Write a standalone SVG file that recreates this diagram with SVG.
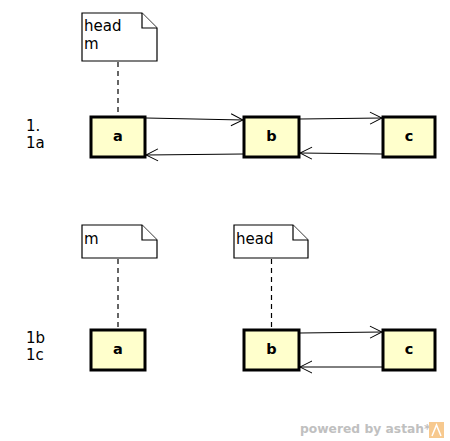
<svg xmlns="http://www.w3.org/2000/svg" width="450" height="441" viewBox="0 0 450 441">
<defs>
<style>
.note{fill:#fff;stroke:#000;stroke-width:1.2}
.box{fill:#ffffcc;stroke:#000;stroke-width:3}
.lbl{font-family:"DejaVu Sans",sans-serif;font-size:14.5px;font-weight:bold;text-anchor:middle}
.txt{font-family:"DejaVu Sans",sans-serif;font-size:15px;fill:#000}
.dash{stroke:#000;stroke-width:1.2;stroke-dasharray:5,4;fill:none}
.edge{stroke:#000;stroke-width:1;fill:none}
</style>
<marker id="open" markerWidth="14" markerHeight="14" refX="13" refY="7" orient="auto" markerUnits="userSpaceOnUse">
<path d="M1,1 L13,7 L1,13" fill="none" stroke="#000" stroke-width="1"/>
</marker>
</defs>
<rect width="450" height="441" fill="#fff"/>
<text class="txt" x="26" y="131">1.</text>
<text class="txt" x="26" y="148">1a</text>
<text class="txt" x="26" y="343">1b</text>
<text class="txt" x="26" y="360">1c</text>
<g id="note1">
<path class="note" d="M82,13 H142 L157,28 V61 H82 Z"/>
<path class="note" d="M142,13 V28 H157"/>
<text class="txt" x="84" y="31">head</text>
<text class="txt" x="84" y="49">m</text>
</g>
<g id="a1"><rect class="box" x="91" y="117" width="54" height="40"/><text class="lbl" x="118" y="140.5">a</text></g>
<g id="b1"><rect class="box" x="244" y="117" width="55" height="40"/><text class="lbl" x="271.5" y="140.5">b</text></g>
<g id="c1"><rect class="box" x="383" y="117" width="52" height="40"/><text class="lbl" x="409" y="140.5">c</text></g>
<g id="note2">
<path class="note" d="M82,225 H142 L157,240 V258 H82 Z"/>
<path class="note" d="M142,225 V240 H157"/>
<text class="txt" x="84" y="244">m</text>
</g>
<g id="note3">
<path class="note" d="M234,225 H293 L308,240 V258 H234 Z"/>
<path class="note" d="M293,225 V240 H308"/>
<text class="txt" x="236" y="244">head</text>
</g>
<g id="a2"><rect class="box" x="91" y="330" width="54" height="40"/><text class="lbl" x="118" y="353.5">a</text></g>
<g id="b2"><rect class="box" x="244" y="330" width="55" height="40"/><text class="lbl" x="271.5" y="353.5">b</text></g>
<g id="c2"><rect class="box" x="383" y="330" width="52" height="40"/><text class="lbl" x="409" y="353.5">c</text></g>
<g id="connectors">
<line class="dash" x1="118" y1="62" x2="118" y2="116"/>
<line class="dash" x1="118" y1="259" x2="118" y2="329"/>
<line class="dash" x1="271.5" y1="259" x2="271.5" y2="329"/>
<line class="edge" x1="146" y1="118" x2="243" y2="120" marker-end="url(#open)"/>
<line class="edge" x1="243" y1="154" x2="146" y2="155" marker-end="url(#open)"/>
<line class="edge" x1="300" y1="119" x2="382" y2="118" marker-end="url(#open)"/>
<line class="edge" x1="382" y1="154" x2="300" y2="153" marker-end="url(#open)"/>
<line class="edge" x1="300" y1="333" x2="382" y2="332" marker-end="url(#open)"/>
<line class="edge" x1="382" y1="367" x2="300" y2="367" marker-end="url(#open)"/>
</g>
<text x="300" y="433" font-family="DejaVu Sans,sans-serif" font-size="12.3" font-weight="bold" fill="#c0c0c0">powered by astah*</text>
<g id="logo">
<rect x="429" y="422" width="15" height="16" fill="#f7c98f"/>
<path d="M432,436 L436.5,425 L441,436" fill="none" stroke="#fff" stroke-width="1.5"/>
</g>
</svg>
